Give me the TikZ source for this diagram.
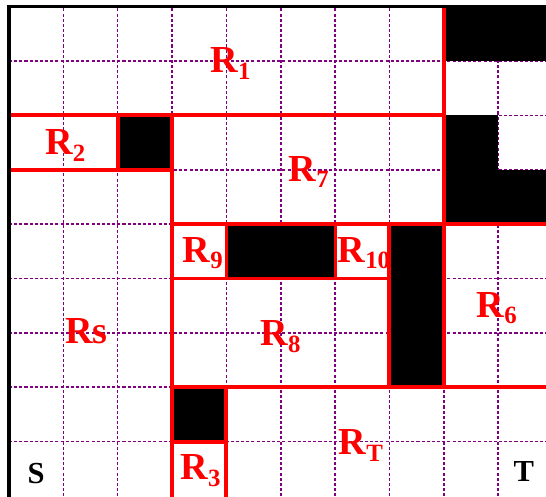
\documentclass[tikz,border=0pt]{standalone}
\usepackage{fontspec}
\setmainfont{Liberation Serif}
\definecolor{gridpurple}{RGB}{128,0,128}
\newcommand{\Rlab}[1]{R\raisebox{-3.4pt}{\fontsize{13}{13}\selectfont #1}}
\begin{document}
\begin{tikzpicture}[x=1cm,y=1cm,
  gridline/.style={gridpurple, line width=0.8pt, dash pattern=on 1.6pt off 1.1pt},
  wall/.style={red, line width=2.1pt, line cap=round},
  thinwall/.style={red, line width=1.5pt},
  block/.style={fill=black},
  border/.style={black, line width=1.6pt},
  lab/.style={text=red, font=\fontsize{20}{20}\selectfont\bfseries, anchor=base west, inner sep=0pt},
  st/.style={text=black, font=\fontsize{16}{16}\selectfont\bfseries, anchor=center, inner sep=0pt}]
\useasboundingbox[fill=white] (-0.166,-0.01) rectangle (9.88,9.125);
% dashed grid
\foreach \i in {1,...,9} \draw[gridline] (\i,-0.1) -- (\i,9);
\foreach \j in {1,...,8} \draw[gridline] (0,\j) -- (10,\j);
% obstacles
\fill[block] (8,8) rectangle (10,9);
\fill[block] (8,5) rectangle (9,7);
\fill[block] (9,5) rectangle (10,6);
\fill[block] (2,6) rectangle (3,7);
\fill[block] (4,4) rectangle (6,5);
\fill[block] (7,2) rectangle (8,5);
\fill[block] (3,1) rectangle (4,2);
% red partition lines
\draw[wall] (0,7) -- (8,7);
\draw[wall] (8,9) -- (8,2);
\draw[wall] (0,6) -- (3,6);
\draw[wall] (2,7) -- (2,6);
\draw[wall] (3,7) -- (3,-0.2);
\draw[wall] (3,5) -- (10.2,5);
\draw[thinwall] (4,5) -- (4,4);
\draw[thinwall] (3,4) -- (7,4);
\draw[thinwall] (6,5) -- (6,4);
\draw[wall] (7,5) -- (7,2);
\draw[wall] (3,2) -- (10.2,2);
\draw[wall] (4,2) -- (4,-0.2);
\draw[wall] (3,1) -- (4,1);
% outer border
\draw[border] (0,-0.2) -- (0,9) -- (10.2,9);
% labels
\node[lab] (r1) at (3.70,7.79) {\Rlab{1}};
\node[lab] (r2) at (0.66,6.28) {\Rlab{2}};
\node[lab] (r7) at (5.14,5.79) {\Rlab{7}};
\node[lab] (r9) at (3.19,4.30) {\Rlab{9}};
\node[lab] (r10) at (6.04,4.30) {\Rlab{10}};
\node[lab] (rs) at (1.03,2.80) {Rs};
\node[lab] (r8) at (4.62,2.76) {\Rlab{8}};
\node[lab] (r6) at (8.60,3.29) {\Rlab{6}};
\node[lab] (r3) at (3.15,0.30) {\Rlab{3}};
\node[lab] (rt) at (6.06,0.76) {\Rlab{T}};
\node[st] (s) at (0.50,0.41) {S};
\node[st] (t) at (9.47,0.45) {T};
\end{tikzpicture}
\end{document}
